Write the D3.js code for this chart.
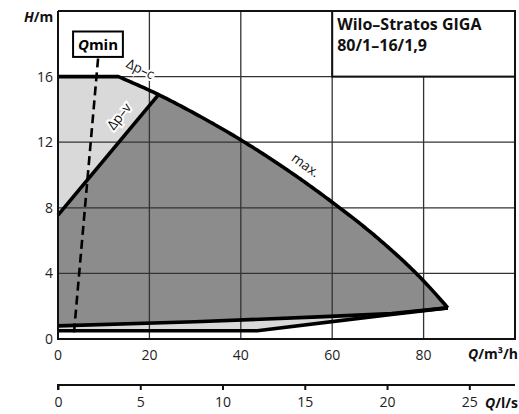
<!DOCTYPE html>
<html><head><meta charset="utf-8">
<script src="https://cdn.jsdelivr.net/npm/d3@7"></script>
<style>body{margin:0;background:#fff}svg{display:block}text{font-family:"Open Sans",sans-serif}</style>
</head><body><svg id="c" width="519" height="414"></svg>
<script>
// Data (Q in m³/h, H in m)
const xTicks = [0, 20, 40, 60, 80];
const yTicks = [0, 4, 8, 12, 16];
const lsTicks = [0, 5, 10, 15, 20, 25];
const flatTop = [[0,16],[13.2,16]];
const maxCurve = [[13.2,16],[22,14.9],[30,13.74],[40,12.14],[50,10.34],[60,8.34],[70,6.14],[80,3.54],[85.3,1.9]];
const dpv = [[0,7.55],[22,14.9]];
const minUpper = [[0,0.8],[30,1.05],[57,1.35],[73,1.55],[85.3,1.9]];
const minLower = [[0,0.5],[43.6,0.5],[73,1.5],[85.3,1.9]];
const qmin = [[3.5,0.4],[8.8,17.2]];
const titleLines = ["Wilo\u2013Stratos GIGA", "80/1\u201316/1,9"];

const svg = d3.select("#c");
const x = d3.scaleLinear().domain([0,100]).range([58,515]);
const y = d3.scaleLinear().domain([0,20]).range([339,11]);
const xl = d3.scaleLinear().domain([0,100/3.6]).range([58,515]);
const line = d3.line().x(d=>x(d[0])).y(d=>y(d[1]));
const smooth = d3.line().x(d=>x(d[0])).y(d=>y(d[1])).curve(d3.curveMonotoneX);

function dense(pts){
  const p = document.createElementNS("http://www.w3.org/2000/svg","path");
  p.setAttribute("d", smooth(pts));
  svg.node().appendChild(p);
  const L = p.getTotalLength(), out=[];
  for(let i=0;i<=200;i++){const q=p.getPointAtLength(L*i/200);out.push([x.invert(q.x),y.invert(q.y)]);}
  p.remove(); return out;
}
const maxDense = dense(maxCurve);

const envelope = flatTop.concat(maxDense).concat(minLower.slice().reverse());
svg.append("path").attr("d", line(envelope)+"Z").attr("fill","#d9d9d9");
const iTop = maxDense.findIndex(p=>p[0]>=22);
const dark = [dpv[0]].concat(maxDense.slice(iTop)).concat(minUpper.slice().reverse());
svg.append("path").attr("d", line(dark)+"Z").attr("fill","#8c8c8c");

const g = svg.append("g").attr("stroke","#333").attr("stroke-width",1.3);
[20,40,60,80].forEach(v=>g.append("line").attr("x1",x(v)).attr("x2",x(v)).attr("y1",y(0)).attr("y2",y(20)));
[4,8,12,16].forEach(v=>g.append("line").attr("x1",x(0)).attr("x2",x(100)).attr("y1",y(v)).attr("y2",y(v)));

svg.append("rect").attr("x",x(60)).attr("y",y(20)).attr("width",x(100)-x(60)).attr("height",y(16)-y(20))
  .attr("fill","#fff").attr("stroke","#111").attr("stroke-width",2);
titleLines.forEach((t,i)=>svg.append("text").attr("x",x(60)+5).attr("y",y(20)+19+i*21)
  .attr("font-size",16).attr("font-weight","bold").attr("fill","#111").text(t));

// curve labels (under the curves, with a white halo that hides grid lines)
function lab(t,px,py,rot,halo){svg.append("text").attr("transform",`translate(${px},${py}) rotate(${rot})`)
  .attr("text-anchor","middle").attr("dominant-baseline","middle").attr("font-size",13.5)
  .attr("stroke",halo?"#fff":"none").attr("stroke-width",4).attr("paint-order","stroke").attr("fill","#111").text(t);}
lab("\u0394p\u2013c",140,70,26,true);
lab("\u0394p\u2013v",120,117,-52,true);
lab("max.",305,166,36,false);

const cs = {fill:"none",stroke:"#000","stroke-width":3.6,"stroke-linejoin":"round"};
function draw(d){const p=svg.append("path").attr("d",d);Object.entries(cs).forEach(([k,v])=>p.attr(k,v));}
draw(line(minLower)); draw(line(minUpper)); draw(line(dpv)); draw(line(flatTop.concat(maxDense)));

svg.append("path").attr("d",line(qmin)).attr("fill","none").attr("stroke","#000")
  .attr("stroke-width",2.6).attr("stroke-dasharray","9,5");
const bx0 = x(3.3), bx1 = x(14.2), by0 = y(18.75), by1 = y(17.2);
svg.append("rect").attr("x",bx0).attr("y",by0).attr("width",bx1-bx0).attr("height",by1-by0)
  .attr("fill","#fff").attr("stroke","#000").attr("stroke-width",2);
const qt = svg.append("text").attr("x",(bx0+bx1)/2).attr("y",(by0+by1)/2+5.5).attr("text-anchor","middle")
  .attr("font-size",15).attr("font-weight","bold");
qt.append("tspan").attr("font-style","italic").text("Q");
qt.append("tspan").text("min");

svg.append("path").attr("d",`M${x(0)},${y(20)}V${y(0)}H${x(100)}V${y(20)}H${x(0)}`)
  .attr("fill","none").attr("stroke","#111").attr("stroke-width",2);

yTicks.forEach(v=>svg.append("text").attr("x",53).attr("y",y(v)+5).attr("text-anchor","end")
  .attr("font-size",14).attr("fill","#222").text(v));
xTicks.forEach(v=>svg.append("text").attr("x",x(v)).attr("y",360).attr("text-anchor","middle")
  .attr("font-size",14).attr("fill","#222").text(v));

const ht = svg.append("text").attr("x",24).attr("y",22).attr("font-size",14).attr("font-weight","bold").attr("fill","#111");
ht.append("tspan").attr("font-style","italic").text("H");
ht.append("tspan").text("/m");
const qt2 = svg.append("text").attr("x",518).attr("y",359).attr("text-anchor","end").attr("font-size",14).attr("font-weight","bold").attr("fill","#111");
qt2.append("tspan").attr("font-style","italic").text("Q");
qt2.append("tspan").text("/m\u00b3/h");
const qt3 = svg.append("text").attr("x",518).attr("y",408).attr("text-anchor","end").attr("font-size",14).attr("font-weight","bold").attr("fill","#111");
qt3.append("tspan").attr("font-style","italic").text("Q");
qt3.append("tspan").text("/l/s");

const ax = svg.append("g").attr("transform","translate(0,385)")
  .call(d3.axisBottom(xl).tickValues(lsTicks).tickSize(5).tickSizeOuter(0).tickPadding(7));
ax.select(".domain").attr("stroke","#111").attr("stroke-width",2).attr("d",`M${xl(0)},5V0H515`);
ax.selectAll(".tick line").attr("stroke","#111").attr("stroke-width",2);
ax.selectAll(".tick text").attr("font-size",14).attr("fill","#222").attr("font-family","Open Sans, sans-serif");
</script></body></html>
